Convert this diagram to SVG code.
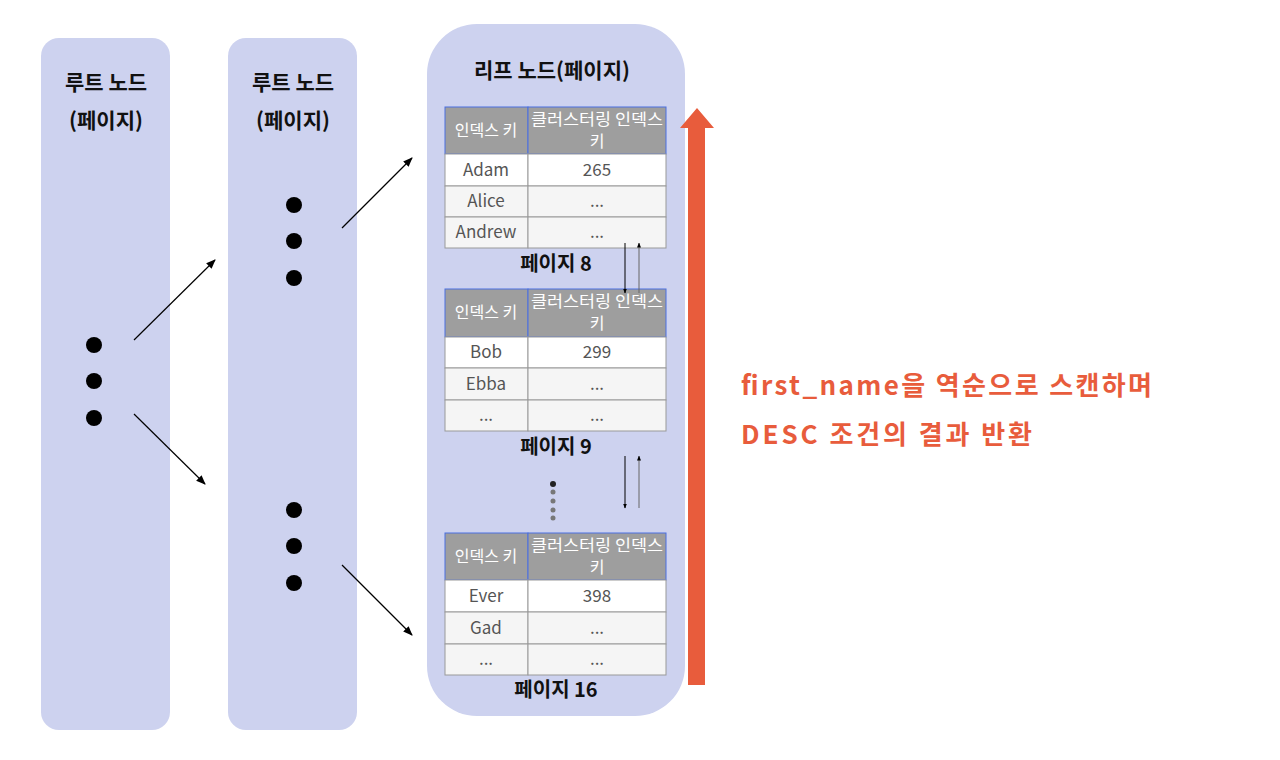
<svg xmlns="http://www.w3.org/2000/svg" width="1280" height="760" viewBox="0 0 1280 760">
<defs>
<style>
text{font-family:"Noto Sans CJK KR","Noto Sans",sans-serif}
.col{fill:#cdd2ef}
.t{font-size:21px;font-weight:bold;fill:#111;text-anchor:middle}
.hd{fill:#9e9e9e;stroke:#4a6fe0;stroke-width:1}
.ht{font-size:16px;fill:#fff;text-anchor:middle}
.c{stroke:#999;stroke-width:1}
.ct{font-size:17px;fill:#555;text-anchor:middle}
.pg{font-size:20px;font-weight:bold;fill:#111;text-anchor:middle}
.ln{stroke:#000;stroke-width:1.2;fill:none}
.red{font-size:26px;font-weight:bold;fill:#e85c3c}
</style>
<marker id="ah" viewBox="0 0 10 10" refX="9" refY="5" markerWidth="8" markerHeight="8" orient="auto-start-reverse"><path d="M0,1 L10,5 L0,9 z" fill="#000"/></marker>
<marker id="as" viewBox="0 0 10 10" refX="9" refY="5" markerWidth="5" markerHeight="5" orient="auto"><path d="M0,1 L10,5 L0,9 z" fill="#000"/></marker>
</defs>
<rect width="1280" height="760" fill="#fff"/>
<g id="root1"><rect class="col" x="41" y="38" width="129" height="692" rx="18"/>
<text class="t" x="106" y="90">루트 노드</text><text class="t" x="106" y="128">(페이지)</text>
<circle cx="94" cy="345" r="8"/><circle cx="94" cy="381" r="8"/><circle cx="94" cy="418" r="8"/></g>
<g id="root2"><rect class="col" x="228" y="38" width="129" height="692" rx="18"/>
<text class="t" x="293" y="90">루트 노드</text><text class="t" x="293" y="128">(페이지)</text>
<circle cx="294" cy="205" r="8"/><circle cx="294" cy="241" r="8"/><circle cx="294" cy="278" r="8"/>
<circle cx="294" cy="510" r="8"/><circle cx="294" cy="546" r="8"/><circle cx="294" cy="583" r="8"/></g>
<g id="leaf"><rect class="col" x="427" y="24" width="258" height="692" rx="50"/>
<text class="t" x="552" y="78">리프 노드(페이지)</text>
<g id="p8">
<rect class="hd" x="445" y="107" width="83" height="47"/><rect class="hd" x="528" y="107" width="138" height="47"/>
<text class="ht" x="486" y="136">인덱스 키</text><text class="ht" x="597" y="125" textLength="132" lengthAdjust="spacingAndGlyphs">클러스터링 인덱스</text><text class="ht" x="597" y="147">키</text>
<rect class="c" x="445" y="154" width="83" height="32" fill="#fff"/><rect class="c" x="528" y="154" width="138" height="32" fill="#fff"/>
<rect class="c" x="445" y="186" width="83" height="31" fill="#f5f5f5"/><rect class="c" x="528" y="186" width="138" height="31" fill="#f5f5f5"/>
<rect class="c" x="445" y="217" width="83" height="31" fill="#f5f5f5"/><rect class="c" x="528" y="217" width="138" height="31" fill="#f5f5f5"/>
<text class="ct" x="486" y="176">Adam</text><text class="ct" x="597" y="176">265</text>
<text class="ct" x="486" y="207">Alice</text><text class="ct" x="597" y="207">...</text>
<text class="ct" x="486" y="238">Andrew</text><text class="ct" x="597" y="238">...</text>
<text class="pg" x="556" y="271">페이지 8</text></g>
<g id="p9">
<rect class="hd" x="445" y="289" width="83" height="48"/><rect class="hd" x="528" y="289" width="138" height="48"/>
<text class="ht" x="486" y="318">인덱스 키</text><text class="ht" x="597" y="307" textLength="132" lengthAdjust="spacingAndGlyphs">클러스터링 인덱스</text><text class="ht" x="597" y="329">키</text>
<rect class="c" x="445" y="337" width="83" height="31" fill="#fff"/><rect class="c" x="528" y="337" width="138" height="31" fill="#fff"/>
<rect class="c" x="445" y="368" width="83" height="32" fill="#f5f5f5"/><rect class="c" x="528" y="368" width="138" height="32" fill="#f5f5f5"/>
<rect class="c" x="445" y="400" width="83" height="31" fill="#f5f5f5"/><rect class="c" x="528" y="400" width="138" height="31" fill="#f5f5f5"/>
<text class="ct" x="486" y="358">Bob</text><text class="ct" x="597" y="358">299</text>
<text class="ct" x="486" y="390">Ebba</text><text class="ct" x="597" y="390">...</text>
<text class="ct" x="486" y="421">...</text><text class="ct" x="597" y="421">...</text>
<text class="pg" x="556" y="454">페이지 9</text></g>
<circle cx="553" cy="484" r="3" fill="#222"/><circle cx="553" cy="492" r="2.5" fill="#777"/><circle cx="553" cy="501" r="2.5" fill="#777"/><circle cx="553" cy="510" r="2.5" fill="#777"/><circle cx="553" cy="518" r="2.5" fill="#777"/>
<g id="p16">
<rect class="hd" x="445" y="533" width="83" height="47"/><rect class="hd" x="528" y="533" width="138" height="47"/>
<text class="ht" x="486" y="562">인덱스 키</text><text class="ht" x="597" y="551" textLength="132" lengthAdjust="spacingAndGlyphs">클러스터링 인덱스</text><text class="ht" x="597" y="573">키</text>
<rect class="c" x="445" y="580" width="83" height="32" fill="#fff"/><rect class="c" x="528" y="580" width="138" height="32" fill="#fff"/>
<rect class="c" x="445" y="612" width="83" height="32" fill="#f5f5f5"/><rect class="c" x="528" y="612" width="138" height="32" fill="#f5f5f5"/>
<rect class="c" x="445" y="644" width="83" height="31" fill="#f5f5f5"/><rect class="c" x="528" y="644" width="138" height="31" fill="#f5f5f5"/>
<text class="ct" x="486" y="602">Ever</text><text class="ct" x="597" y="602">398</text>
<text class="ct" x="486" y="634">Gad</text><text class="ct" x="597" y="634">...</text>
<text class="ct" x="486" y="665">...</text><text class="ct" x="597" y="665">...</text>
<text class="pg" x="556" y="697">페이지 16</text></g>
</g>
<g id="connectors">
<line class="ln" x1="134" y1="340" x2="215" y2="260" marker-end="url(#ah)"/>
<line class="ln" x1="134" y1="414" x2="205" y2="484" marker-end="url(#ah)"/>
<line class="ln" x1="342" y1="228" x2="412" y2="158" marker-end="url(#ah)"/>
<line class="ln" x1="342" y1="565" x2="412" y2="635" marker-end="url(#ah)"/>
<line x1="625" y1="243" x2="625" y2="293" stroke="#000" stroke-width="1" marker-end="url(#as)"/>
<line x1="639" y1="293" x2="639" y2="243" stroke="#666" stroke-width="1" marker-end="url(#as)"/>
<line x1="625" y1="456" x2="625" y2="508" stroke="#000" stroke-width="1" marker-end="url(#as)"/>
<line x1="639" y1="508" x2="639" y2="456" stroke="#666" stroke-width="1" marker-end="url(#as)"/>
<path d="M688,685 L688,128 L680,128 L697,108 L714,128 L705,128 L705,685 Z" fill="#e85c3c"/>
</g>
<g id="label">
<text class="red" x="741" y="395" textLength="411">first_name을 역순으로 스캔하며</text>
<text class="red" x="741" y="444" textLength="291">DESC 조건의 결과 반환</text>
</g>
</svg>
